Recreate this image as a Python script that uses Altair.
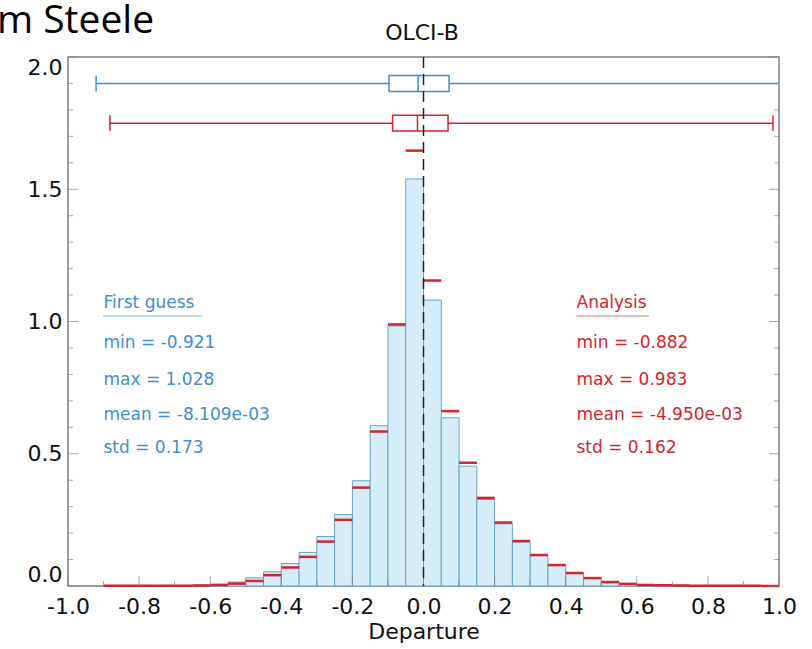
import altair as alt
import pandas as pd

# ---------------- data ----------------
BIN_START = [-0.90, -0.85, -0.80, -0.75, -0.70, -0.65, -0.60, -0.55, -0.50, -0.45,
             -0.40, -0.35, -0.30, -0.25, -0.20, -0.15, -0.10, -0.05, 0.00, 0.05,
             0.10, 0.15, 0.20, 0.25, 0.30, 0.35, 0.40, 0.45, 0.50, 0.55,
             0.60, 0.65, 0.70, 0.75, 0.80, 0.85, 0.90, 0.95]
BIN_WIDTH = 0.05
FG_DENSITY = [0.001, 0.001, 0.001, 0.001, 0.002, 0.003, 0.006, 0.015, 0.031, 0.054,
              0.085, 0.127, 0.187, 0.270, 0.398, 0.606, 0.983, 1.539, 1.081, 0.636,
              0.453, 0.327, 0.235, 0.166, 0.115, 0.079, 0.050, 0.031, 0.015, 0.009,
              0.004, 0.003, 0.002, 0.001, 0.001, 0.001, 0.001, 0.001]
AN_DENSITY = [0.001, 0.001, 0.001, 0.001, 0.001, 0.002, 0.004, 0.009, 0.019, 0.041,
              0.070, 0.110, 0.168, 0.250, 0.372, 0.584, 0.989, 1.646, 1.155, 0.661,
              0.466, 0.333, 0.240, 0.170, 0.117, 0.079, 0.049, 0.030, 0.015, 0.008,
              0.004, 0.003, 0.002, 0.001, 0.001, 0.001, 0.001, 0.000]

BOX_NAMES = ["First guess", "Analysis"]
BOX_MIN = [-0.921, -0.882]
BOX_Q1 = [-0.097, -0.087]
BOX_MED = [-0.015, -0.017]
BOX_Q3 = [0.072, 0.069]
BOX_MAX = [1.028, 0.983]
BOX_ROW = [1.9, 1.75]

X_MAJOR = [-1.0, -0.8, -0.6, -0.4, -0.2, 0.0, 0.2, 0.4, 0.6, 0.8, 1.0]
X_MINOR = [-0.9, -0.7, -0.5, -0.3, -0.1, 0.1, 0.3, 0.5, 0.7, 0.9]
Y_MAJOR = [0.0, 0.5, 1.0, 1.5, 2.0]
Y_MINOR = [0.1, 0.2, 0.3, 0.4, 0.6, 0.7, 0.8, 0.9, 1.1, 1.2, 1.3, 1.4,
           1.6, 1.7, 1.8, 1.9]

FG_LINES = ["First guess", "min = -0.921", "max = 1.028", "mean = -8.109e-03", "std = 0.173"]
AN_LINES = ["Analysis", "min = -0.882", "max = 0.983", "mean = -4.950e-03", "std = 0.162"]

TITLE = "OLCI-B"
CORNER_TEXT = "m Steele"

# ---------------- styles ----------------
BLUE = "#3f8ed0"
RED = "#d3252c"
BAR_FILL = "#d5edf9"
BAR_STROKE = "#62a5cb"
FRAME = "#808080"
FONT = "DejaVu Sans"

W, H = 711, 529
PAD_L, PAD_T = 68, 57

hist = pd.DataFrame({
    "start": BIN_START,
    "end": [s + BIN_WIDTH for s in BIN_START],
    "fg": FG_DENSITY,
    "an": AN_DENSITY,
})
box = pd.DataFrame({
    "name": BOX_NAMES, "lo": BOX_MIN, "q1": BOX_Q1, "med": BOX_MED,
    "q3": BOX_Q3, "hi": BOX_MAX, "row": BOX_ROW,
})

xscale = alt.Scale(domain=[-1, 1], nice=False, zero=False)
yscale = alt.Scale(domain=[0, 2], nice=False, zero=False)
cscale = alt.Scale(domain=BOX_NAMES, range=[BLUE, RED])

LABEL_EXPR = "datum.value < 0 ? '-' + format(-datum.value, '.1f') : format(datum.value, '.1f')"

xaxis = alt.Axis(values=X_MAJOR, labelExpr=LABEL_EXPR, ticks=False, domain=False, grid=False,
                 labelOverlap=False, labelFlush=False, labelFont=FONT, labelFontSize=22,
                 labelColor="#111", labelPadding=10, title="Departure", titleFont=FONT,
                 titleFontSize=22, titleFontWeight="normal", titleColor="#111", titlePadding=4)
yaxis = alt.Axis(values=Y_MAJOR, labelExpr=LABEL_EXPR, ticks=False, domain=False, grid=False,
                 labelOverlap=False, labelFont=FONT, labelFontSize=22, labelColor="#111",
                 labelPadding=6, labelFlush=True, title=None)


def X(field):
    return alt.X(field, scale=xscale, axis=xaxis, title="Departure")


def Y(field):
    return alt.Y(field, scale=yscale, axis=yaxis, title=None)


bars = alt.Chart(hist).mark_rect(fill=BAR_FILL, stroke=BAR_STROKE, strokeWidth=1).encode(
    x=X("start:Q"), x2="end:Q",
    y=Y("fg:Q"), y2=alt.datum(0),
)
red_ticks = alt.Chart(hist).mark_rule(color=RED, strokeWidth=2.5).encode(
    x=X("start:Q"), x2="end:Q", y=Y("an:Q"),
)

boxbase = alt.Chart(box).transform_calculate(
    ylo="datum.row - 0.03", yhi="datum.row + 0.03"
)
col = alt.Color("name:N", scale=cscale, legend=None)
whisk = boxbase.mark_rule(strokeWidth=1.5, clip=True).encode(
    x=X("lo:Q"), x2="hi:Q", y=Y("row:Q"), color=col,
)
cap_lo = boxbase.mark_rule(strokeWidth=1.5, clip=True).encode(
    x=X("lo:Q"), y=Y("ylo:Q"), y2="yhi:Q", color=col,
)
cap_hi = boxbase.mark_rule(strokeWidth=1.5, clip=True).encode(
    x=X("hi:Q"), y=Y("ylo:Q"), y2="yhi:Q", color=col,
)
boxes = boxbase.mark_rect(fill="white", strokeWidth=1.5).encode(
    x=X("q1:Q"), x2="q3:Q", y=Y("ylo:Q"), y2="yhi:Q",
    stroke=alt.Stroke("name:N", scale=cscale, legend=None),
)
medians = boxbase.mark_rule(strokeWidth=1.5).encode(
    x=X("med:Q"), y=Y("ylo:Q"), y2="yhi:Q", color=col,
)

zero_line = alt.Chart(pd.DataFrame({"x": [0.0]})).mark_rule(
    color="#222", strokeWidth=1.5, strokeDash=[11, 6]
).encode(x=X("x:Q"))


# inward ticks
def xticks(vals, size):
    return alt.Chart(pd.DataFrame({"v": vals, "b": [0.0] * len(vals)})).mark_tick(
        orient="vertical", size=size, thickness=1, color=FRAME, yOffset=-size / 2
    ).encode(x=X("v:Q"), y=Y("b:Q"))


def yticks(vals, size, side):
    off = size / 2 if side < 0 else -size / 2
    return alt.Chart(pd.DataFrame({"v": vals, "s": [float(side)] * len(vals)})).mark_tick(
        orient="horizontal", size=size, thickness=1, color=FRAME, xOffset=off
    ).encode(y=Y("v:Q"), x=X("s:Q"))


tick_layers = [xticks(X_MAJOR, 10), xticks(X_MINOR, 5),
               yticks(Y_MAJOR, 10, -1), yticks(Y_MINOR, 5, -1),
               yticks(Y_MAJOR, 10, 1), yticks(Y_MINOR, 5, 1)]


def label(text, x, y, **kw):
    return alt.Chart(pd.DataFrame({"t": [text]})).mark_text(
        baseline="alphabetic", **kw
    ).encode(text="t:N", x=alt.value(x - PAD_L), y=alt.value(y - PAD_T))


# stats text
BASELINES = [308, 348, 385, 420, 453]
text_layers = []
for lines, x0, c in [(FG_LINES, 103.5, BLUE), (AN_LINES, 576.5, RED)]:
    for line, yb in zip(lines, BASELINES):
        text_layers.append(label(line, x0, yb, align="left", font=FONT, fontSize=17, color=c))

underlines = [
    alt.Chart(pd.DataFrame({"a": [0]})).mark_rule(color="#a8c8e2", strokeWidth=1.5).encode(
        x=alt.value(103 - PAD_L), x2=alt.value(202 - PAD_L), y=alt.value(316 - PAD_T)),
    alt.Chart(pd.DataFrame({"a": [0]})).mark_rule(color="#e7a3a3", strokeWidth=1.5).encode(
        x=alt.value(576.5 - PAD_L), x2=alt.value(649 - PAD_L), y=alt.value(316 - PAD_T)),
]

title = label(TITLE, 422, 40, align="center", font=FONT, fontSize=22, color="#111")
corner = label(CORNER_TEXT, -3, 33, align="left", font="Open Sans", fontSize=39, color="black")

chart = alt.layer(
    bars, red_ticks, *tick_layers, whisk, cap_lo, cap_hi, boxes, medians, zero_line,
    *text_layers, *underlines, title, corner,
).properties(
    width=W, height=H,
    autosize=alt.AutoSizeParams(type="none"),
    padding={"left": PAD_L, "top": PAD_T, "right": 812 - PAD_L - W, "bottom": 649 - PAD_T - H},
).configure_view(stroke=FRAME, strokeWidth=1.5)

chart.save("out.html", embed_options={"renderer": "svg", "actions": False})
